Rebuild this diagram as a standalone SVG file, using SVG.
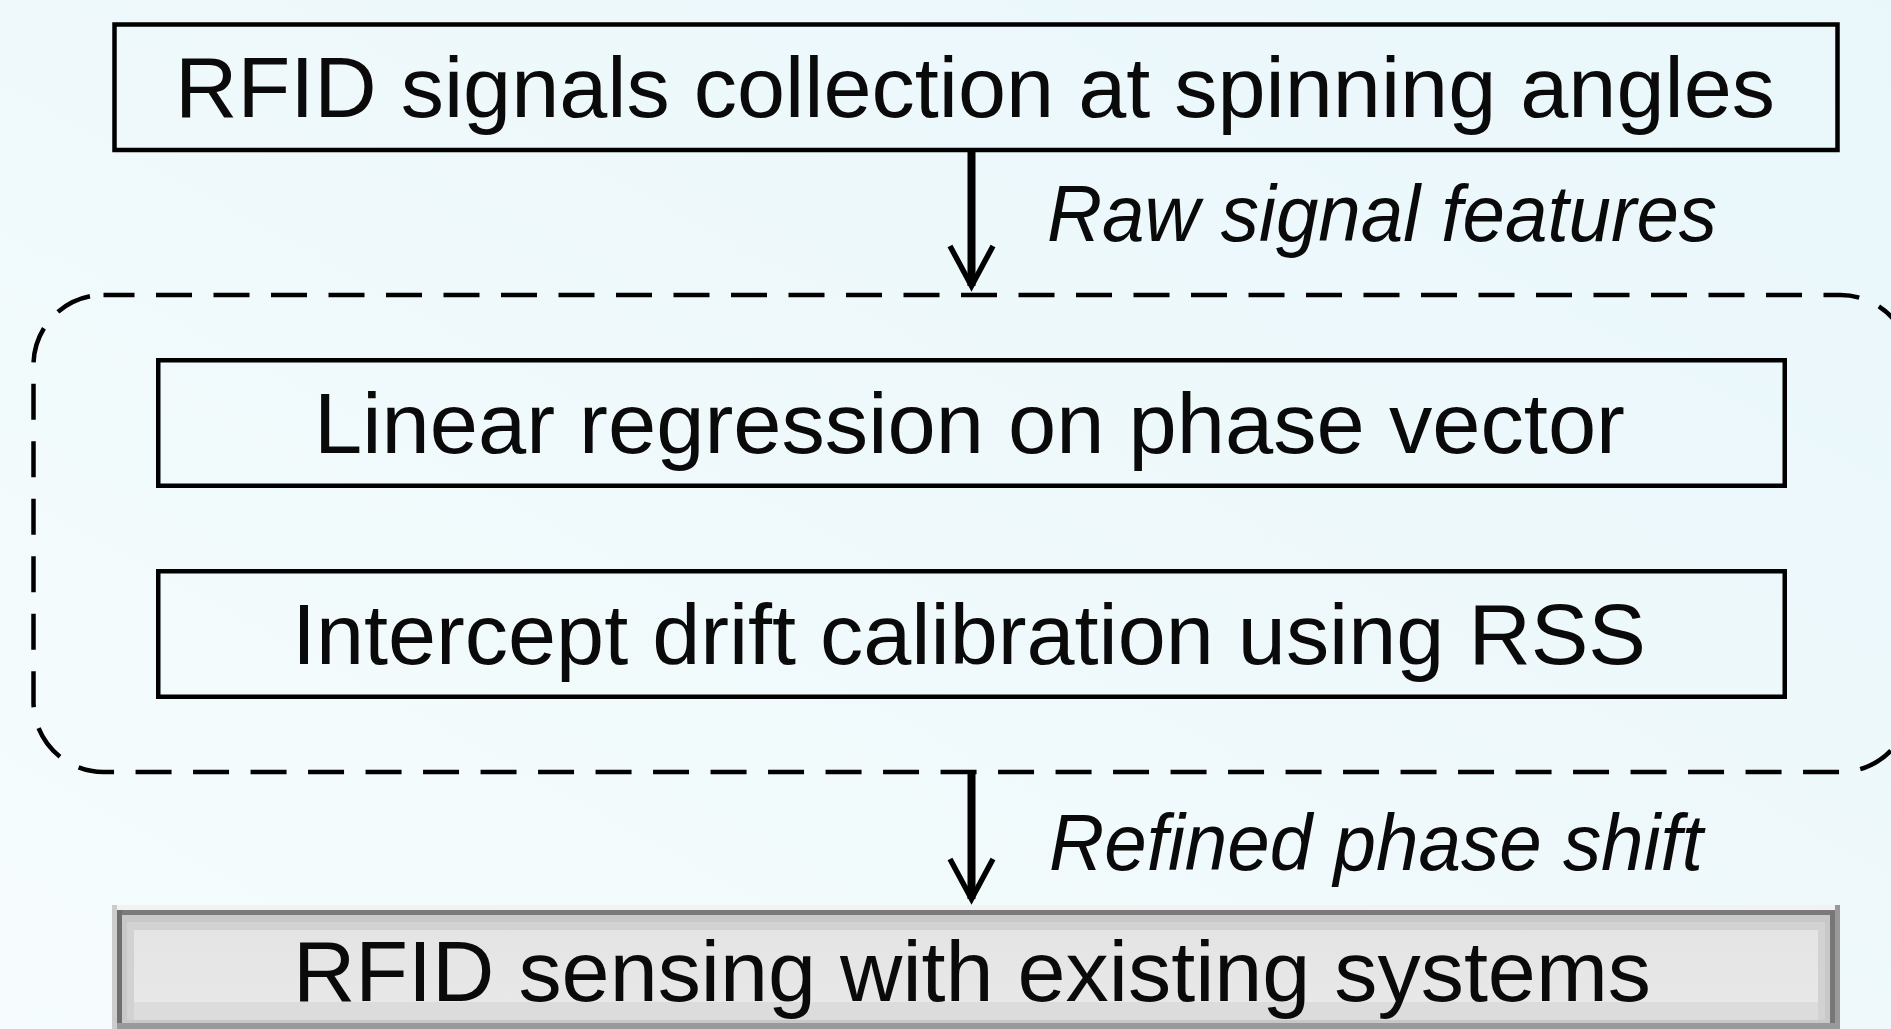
<svg xmlns="http://www.w3.org/2000/svg" width="1891" height="1029" viewBox="0 0 1891 1029">
  <defs>
    <linearGradient id="bg" x1="1" y1="0" x2="0" y2="1">
      <stop offset="0" stop-color="#e9f7fb"/>
      <stop offset="0.5" stop-color="#eff9fb"/>
      <stop offset="1" stop-color="#f6fcfd"/>
    </linearGradient>
    <linearGradient id="btn" x1="0" y1="0" x2="0" y2="1">
      <stop offset="0" stop-color="#e4e4e4"/>
      <stop offset="1" stop-color="#e8e8e8"/>
    </linearGradient>
    <marker id="arrow" markerUnits="userSpaceOnUse" viewBox="-50 -30 60 60" markerWidth="60" markerHeight="60" refX="0" refY="0" orient="auto" overflow="visible">
      <path d="M-40,-21.5 L0,0 L-40,21.5" fill="none" stroke="#000" stroke-width="5.5" stroke-linejoin="miter"/>
    </marker>
    <style>
      .box { fill: none; stroke: #000; stroke-width: 4.5; }
      .lbl { font-family: "Liberation Sans", Arial, sans-serif; font-size: 86px; fill: #0a0a0a; }
      .edge { font-family: "Liberation Sans", Arial, sans-serif; font-size: 79px; font-style: italic; fill: #0a0a0a; }
      .conn { stroke: #000; stroke-width: 8; fill: none; }
    </style>
  </defs>
  <rect x="0" y="0" width="1891" height="1029" fill="url(#bg)"/>

  <g id="top-box">
    <rect class="box" x="114.5" y="24.5" width="1723" height="125.5"/>
    <text class="lbl" x="175" y="117" textLength="1600" lengthAdjust="spacingAndGlyphs">RFID signals collection at spinning angles</text>
  </g>

  <g id="group-dashed">
    <rect x="33.5" y="295" width="1877" height="477" rx="70" ry="70" fill="none" stroke="#000" stroke-width="4.5" stroke-dasharray="36 21.5" stroke-dashoffset="5"/>
  </g>

  <g id="linear-regression">
    <rect class="box" x="158.25" y="360.25" width="1626.5" height="125.5"/>
    <text class="lbl" x="314" y="453" textLength="1311" lengthAdjust="spacingAndGlyphs">Linear regression on phase vector</text>
  </g>

  <g id="intercept-drift">
    <rect class="box" x="158.25" y="571.25" width="1626.5" height="125.5"/>
    <text class="lbl" x="292" y="664" textLength="1354" lengthAdjust="spacingAndGlyphs">Intercept drift calibration using RSS</text>
  </g>

  <g id="rfid-sensing">
    <rect x="112" y="905" width="1728" height="124" fill="#c8c8c8"/>
    <rect x="112" y="905" width="1728" height="5" fill="#f2f2f2"/>
    <rect x="112" y="905" width="5" height="124" fill="#cccccc"/>
    <rect x="1835" y="905" width="5" height="124" fill="#999999"/>
    <rect x="117" y="910" width="1718" height="5" fill="#7a7a7a"/>
    <rect x="117" y="910" width="5" height="119" fill="#6e6e6e"/>
    <rect x="1830" y="910" width="5" height="119" fill="#777777"/>
    <rect x="117" y="1023" width="1718" height="6" fill="#999999"/>
    <rect x="127" y="922" width="1698" height="98" fill="#d2d2d2"/>
    <rect x="134" y="930" width="1684" height="72" fill="url(#btn)"/>
    <rect x="134" y="1002" width="1684" height="18" fill="#dcdcdc"/>
    <text class="lbl" x="293" y="1001" textLength="1358" lengthAdjust="spacingAndGlyphs">RFID sensing with existing systems</text>
  </g>

  <g id="connectors">
    <line class="conn" x1="971.5" y1="152" x2="971.5" y2="286" marker-end="url(#arrow)"/>
    <line class="conn" x1="971.5" y1="774" x2="971.5" y2="899" marker-end="url(#arrow)"/>
    <text class="edge" x="1047" y="241" textLength="670" lengthAdjust="spacingAndGlyphs">Raw signal features</text>
    <text class="edge" x="1049" y="870" textLength="654" lengthAdjust="spacingAndGlyphs">Refined phase shift</text>
  </g>
</svg>
